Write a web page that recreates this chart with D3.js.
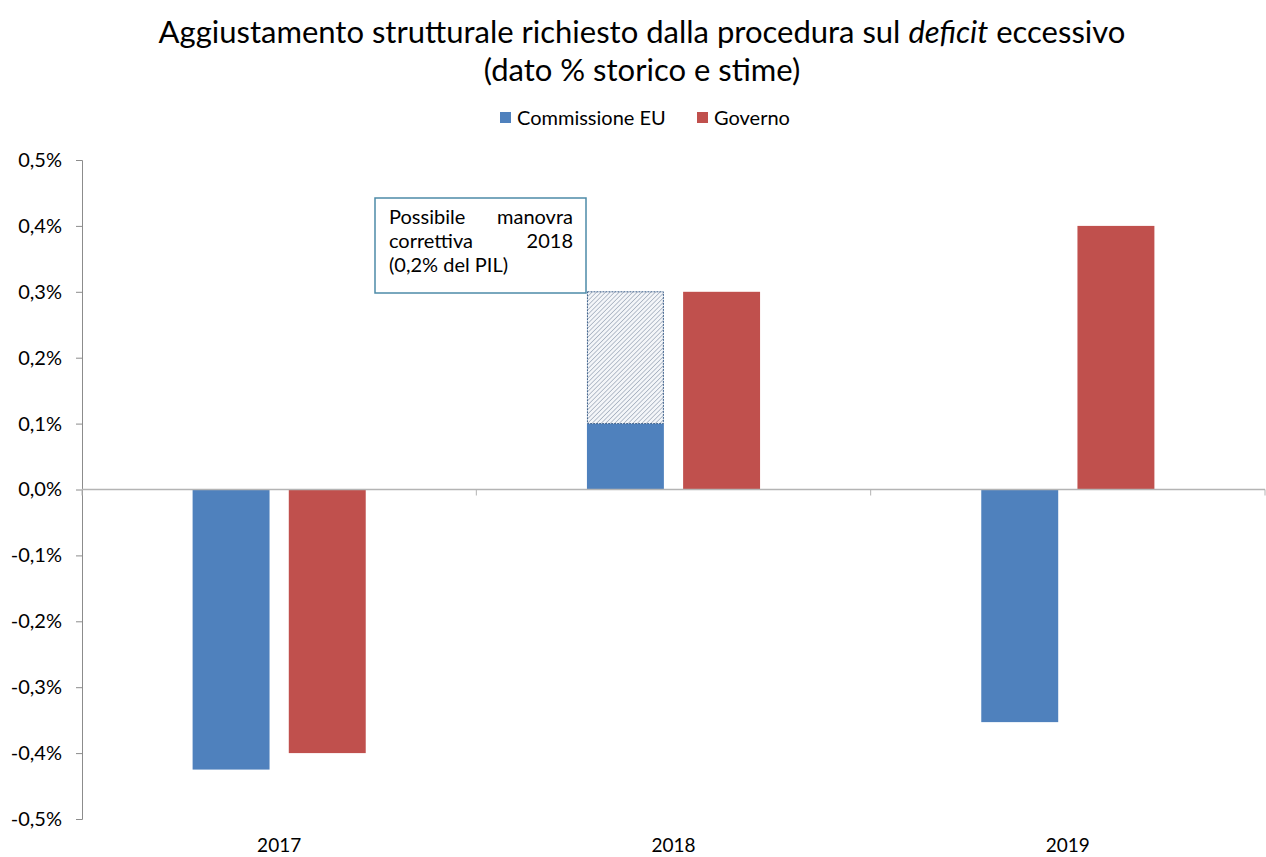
<!DOCTYPE html>
<html>
<head>
<meta charset="utf-8">
<script src="https://cdn.jsdelivr.net/npm/d3@7"></script>
<style>
  body { margin: 0; background: #fff; }
  svg { display: block; }
  text { font-family: Lato, "Open Sans", sans-serif; fill: #000; }
</style>
</head>
<body>
<svg id="chart" width="1266" height="857"></svg>
<script>
// ---- data ----
const categories = ["2017", "2018", "2019"];
const seriesNames = ["Commissione EU", "Governo"];
const commissione = [-0.425, 0.1, -0.353];
const governo = [-0.4, 0.3, 0.4];
const manovra = [0, 0.2, 0]; // possibile manovra correttiva, stacked on Commissione EU
const yTicks = [-0.5, -0.4, -0.3, -0.2, -0.1, 0, 0.1, 0.2, 0.3, 0.4, 0.5];
const titleLines = ["Aggiustamento strutturale richiesto dalla procedura sul ", "deficit", " eccessivo"];
const subtitle = "(dato % storico e stime)";
const noteLines = [["Possibile", "manovra"], ["correttiva", "2018"], ["(0,2% del PIL)"]];
const colors = { "Commissione EU": "#4f81bd", "Governo": "#c0504d" };

const svg = d3.select("#chart");

const x0 = d3.scaleBand().domain(categories).range([82, 1265]);
const x1 = d3.scaleBand().domain(seriesNames).range([0, x0.bandwidth()]).paddingInner(0.2).paddingOuter(1.15);
const y = d3.scaleLinear().domain([-0.5, 0.5]).range([819, 160]);

// pattern
const defs = svg.append("defs");
const pat = defs.append("pattern").attr("id", "hatch").attr("patternUnits", "userSpaceOnUse")
  .attr("width", 3.2).attr("height", 3.2).attr("patternTransform", "rotate(45)");
pat.append("rect").attr("width", 3.2).attr("height", 3.2).attr("fill", "#f4f6f9");
pat.append("line").attr("x1", 0).attr("y1", 0).attr("x2", 0).attr("y2", 3.2)
  .attr("stroke", "#8593a8").attr("stroke-width", 1.1);

// title
const t1 = svg.append("text").attr("x", 642).attr("y", 43).attr("text-anchor", "middle")
  .style("font-size", "31px");
t1.append("tspan").text(titleLines[0]);
t1.append("tspan").style("font-style", "italic").text(titleLines[1]);
t1.append("tspan").text(titleLines[2]);
svg.append("text").attr("x", 642).attr("y", 81).attr("text-anchor", "middle")
  .style("font-size", "31px").text(subtitle);

// legend
const legend = svg.append("g");
const legendItems = [{ name: seriesNames[0], x: 500 }, { name: seriesNames[1], x: 697 }];
legendItems.forEach(it => {
  legend.append("rect").attr("x", it.x).attr("y", 112).attr("width", 11).attr("height", 11)
    .attr("fill", colors[it.name]);
  legend.append("text").attr("x", it.x + 17).attr("y", 125).style("font-size", "20px").text(it.name);
});

// y axis
const yAxis = d3.axisLeft(y).tickValues(yTicks).tickSize(6).tickPadding(14)
  .tickFormat(d => d3.format(".1f")(d).replace(".", ",").replace("−", "-") + "%");
const gy = svg.append("g").attr("transform", "translate(82,0)").call(yAxis);
gy.select(".domain").attr("stroke", "#8c8c8c");
gy.selectAll(".tick line").attr("stroke", "#8c8c8c");
gy.selectAll(".tick text").style("font-size", "20px").style("font-family", "Lato, \"Open Sans\", sans-serif");

// bars
const groups = svg.append("g").selectAll("g").data(categories).join("g")
  .attr("transform", d => `translate(${x0(d)},0)`);
groups.append("rect")
  .attr("x", x1(seriesNames[0])).attr("width", x1.bandwidth())
  .attr("y", (d, i) => y(Math.max(0, commissione[i])))
  .attr("height", (d, i) => Math.abs(y(commissione[i]) - y(0)))
  .attr("fill", colors[seriesNames[0]]);
groups.append("rect")
  .attr("x", x1(seriesNames[1])).attr("width", x1.bandwidth())
  .attr("y", (d, i) => y(Math.max(0, governo[i])))
  .attr("height", (d, i) => Math.abs(y(governo[i]) - y(0)))
  .attr("fill", colors[seriesNames[1]]);
groups.filter((d, i) => manovra[i] > 0).append("rect")
  .attr("x", x1(seriesNames[0]) + 0.5).attr("width", x1.bandwidth() - 1)
  .attr("y", d => { const i = categories.indexOf(d); return y(commissione[i] + manovra[i]); })
  .attr("height", d => { const i = categories.indexOf(d); return y(commissione[i]) - y(commissione[i] + manovra[i]); })
  .attr("fill", "url(#hatch)").attr("stroke", "#3c5f8a").attr("stroke-width", 1)
  .attr("stroke-dasharray", "2,1");

// x axis
svg.append("line").attr("x1", 82).attr("x2", 1265).attr("y1", y(0)).attr("y2", y(0))
  .attr("stroke", "#b4b4b4").attr("stroke-width", 1.5);
const tickXs = categories.map(c => x0(c)).concat([x0.range()[1]]);
svg.append("g").selectAll("line").data(tickXs).join("line")
  .attr("x1", d => d).attr("x2", d => d).attr("y1", y(0)).attr("y2", y(0) + 6)
  .attr("stroke", "#b4b4b4");
svg.append("g").selectAll("text").data(categories).join("text")
  .attr("x", d => x0(d) + x0.bandwidth() / 2).attr("y", 852).attr("text-anchor", "middle")
  .style("font-size", "19px").text(d => d);

// annotation box
const box = { x: 375, y: 198, w: 211, h: 95 };
svg.append("rect").attr("x", box.x).attr("y", box.y).attr("width", box.w).attr("height", box.h)
  .attr("fill", "#fff").attr("stroke", "#4d8ba8").attr("stroke-width", 1.5);
noteLines.forEach((ln, i) => {
  const yy = box.y + 26 + i * 24;
  if (ln.length === 2) {
    svg.append("text").attr("x", box.x + 14).attr("y", yy).style("font-size", "20px").text(ln[0]);
    svg.append("text").attr("x", box.x + box.w - 13).attr("y", yy).attr("text-anchor", "end")
      .style("font-size", "20px").text(ln[1]);
  } else {
    svg.append("text").attr("x", box.x + 14).attr("y", yy).style("font-size", "20px").text(ln[0]);
  }
});
</script>
</body>
</html>
